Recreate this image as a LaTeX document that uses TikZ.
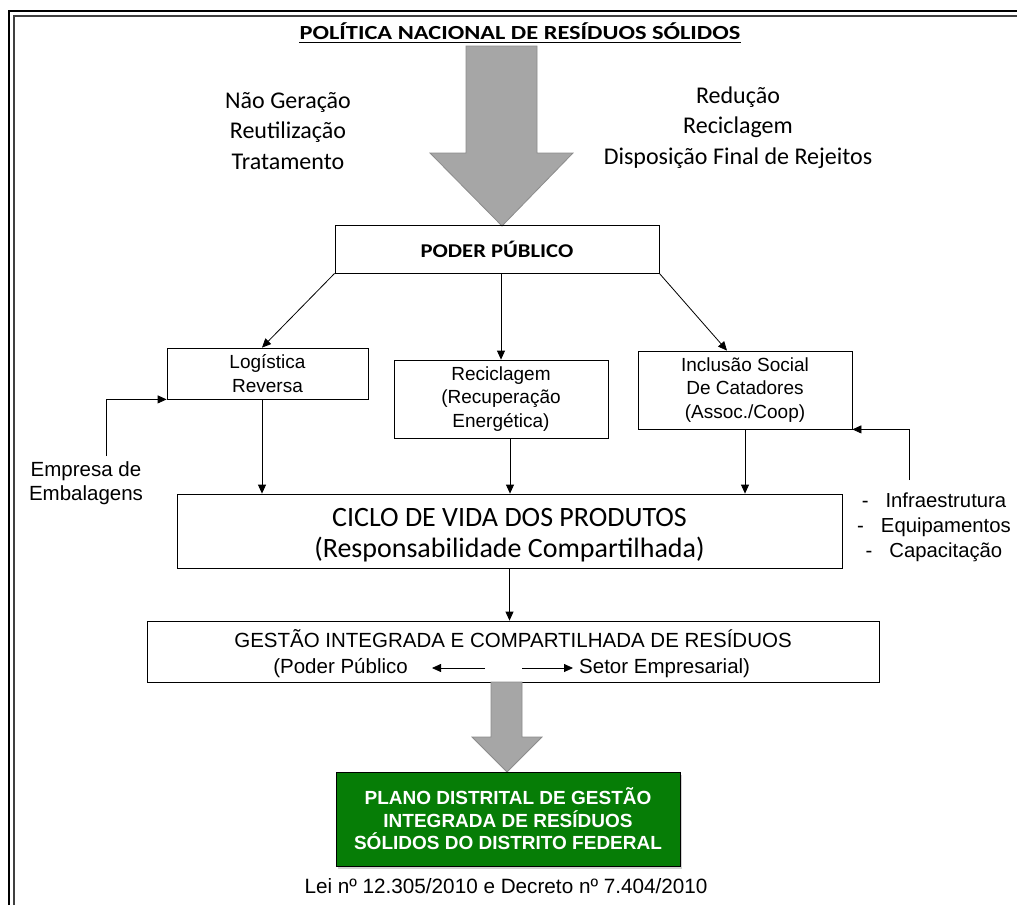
\documentclass[tikz,border=0pt]{standalone}
\usepackage{fontspec}
\usepackage{graphicx}
\setmainfont{Liberation Sans}
\newfontfamily\calib{Carlito}
\usetikzlibrary{arrows.meta,shadows}
\definecolor{arrowgray}{HTML}{A6A6A6}
\definecolor{arrowedge}{HTML}{8C8C8C}
\definecolor{planogreen}{HTML}{067D06}
\begin{document}
\begin{tikzpicture}[x=1pt,y=-1pt,
  box/.style={draw, line width=0.8pt, inner sep=0pt, align=center},
  arr/.style={-{Triangle[length=9pt,width=8pt]}, line width=0.8pt},
  bigarr/.style={fill=arrowgray, draw=arrowedge, line width=0.8pt},
  calibtxt/.style={font=\calib\fontsize{24}{30.5}\selectfont, align=center, inner sep=0pt},
  boxtxt/.style={font=\fontsize{19}{23.5}\selectfont},
  ariatxt/.style={font=\fontsize{20.5}{24}\selectfont, inner sep=0pt}]
\useasboundingbox (0,0) rectangle (1017,905);
\fill[white] (0,0) rectangle (1017,905);
% frame
\draw[line width=1.3pt] (9,905) -- (9,11) -- (1017,11);
\draw[line width=1.6pt, black!75] (14,905) -- (14,16) -- (1017,16);
% title
\node[anchor=base, inner sep=0pt, font=\calib\bfseries\fontsize{20}{24}\selectfont] (title) at (520,39) {\scalebox{1.22}[1]{POLÍTICA NACIONAL DE RESÍDUOS SÓLIDOS}};
\draw[line width=1.3pt] ([yshift=-3.5pt]title.base west) -- ([yshift=-3.5pt]title.base east);
% side texts
\node[calibtxt] (left) at (288,131) {Não Geração\\Reutilização\\Tratamento};
\node[calibtxt] (right) at (738,127.5) {Redução\\Reciclagem\\Disposição Final de Rejeitos};
% big arrow
\draw[bigarr] (466,46) -- (537,46) -- (537,153) -- (573,153) -- (502,226) -- (430,153) -- (466,153) -- cycle;
% boxes
\node[box, minimum width=324pt, minimum height=48pt, font=\calib\bfseries\fontsize{19.5}{24}\selectfont] (poder) at (497,249) {\scalebox{1.16}[1]{PODER PÚBLICO}};
\node[box, boxtxt, minimum width=201pt, minimum height=51pt] (log) at (267.5,373.5) {Logística\\Reversa};
\node[box, boxtxt, minimum width=214pt, minimum height=78pt] (recic) at (501,399) {Reciclagem\\(Recuperação\\Energética)};
\node[box, boxtxt, minimum width=214pt, minimum height=78pt] (incl) at (745,390) {Inclusão Social\\De Catadores\\(Assoc./Coop)};
\node[box, minimum width=665pt, minimum height=74pt] (ciclo) at (509.5,531) {};
\node[inner sep=0pt, align=center, font=\calib\fontsize{28}{31}\selectfont] (ciclotxt) at (509.5,535) {CICLO DE VIDA DOS PRODUTOS\\(Responsabilidade Compartilhada)};
\node[box, minimum width=732pt, minimum height=61pt] (gest) at (513,651.5) {};
\node[ariatxt, anchor=base] (g1) at (513,647) {GESTÃO INTEGRADA E COMPARTILHADA DE RESÍDUOS};
\node[ariatxt, anchor=base east] (gl) at (408,673) {(Poder Público};
\node[ariatxt, anchor=base west] (gr) at (579,673) {Setor Empresarial)};
\draw[arr] ([xshift=77pt,yshift=5pt]gl.base east) -- ([xshift=24pt,yshift=5pt]gl.base east);
\draw[arr] ([xshift=-57pt,yshift=5pt]gr.base west) -- ([xshift=-6pt,yshift=5pt]gr.base west);
% side labels
\node[ariatxt, align=center] (emp) at (86,483) {Empresa de\\Embalagens};
\node[ariatxt, align=center, font=\fontsize{20.3}{25}\selectfont] (infra) at (934,527) {-\hspace{17pt}Infraestrutura\\-\hspace{17pt}Equipamentos\\-\hspace{17pt}Capacitação};
\coordinate (e1) at (106,456);
\coordinate (i1) at (909,480);
% connectors
\draw[arr] (poder.south west) -- ([xshift=-5.5pt]log.north);
\draw[arr] (poder.south -| recic.north) -- (recic.north);
\draw[arr] (poder.south east) -- ([xshift=-18pt]incl.north);
\draw[arr] ([xshift=-5.5pt]log.south) -- ([xshift=-5.5pt]log.south |- ciclo.north);
\draw[arr] ([xshift=9pt]recic.south) -- ([xshift=9pt]recic.south |- ciclo.north);
\draw[arr] (incl.south) -- (incl.south |- ciclo.north);
\draw[arr] (e1) |- (log.south west);
\draw[arr] (i1) |- (incl.south east);
\draw[arr] (ciclo.south) -- (ciclo.south |- gest.north);
% second big arrow
\draw[bigarr] (491,682) -- (522,682) -- (522,737) -- (542,737) -- (507,772) -- (472,737) -- (491,737) -- cycle;
% plano
\node[draw=black, line width=0.8pt, fill=planogreen, text=white, inner sep=0pt, align=center,
  font=\bfseries\fontsize{19}{22.5}\selectfont, minimum width=344pt, minimum height=94pt,
  drop shadow={opacity=0.35, shadow xshift=2pt, shadow yshift=-3pt}] (plano) at (508,819)
  {PLANO DISTRITAL DE GESTÃO\\INTEGRADA DE RESÍDUOS\\SÓLIDOS DO DISTRITO FEDERAL};
\node[ariatxt, anchor=base, font=\fontsize{20.7}{24}\selectfont] (lei) at (506,893) {Lei nº 12.305/2010 e Decreto nº 7.404/2010};
\end{tikzpicture}
\end{document}
